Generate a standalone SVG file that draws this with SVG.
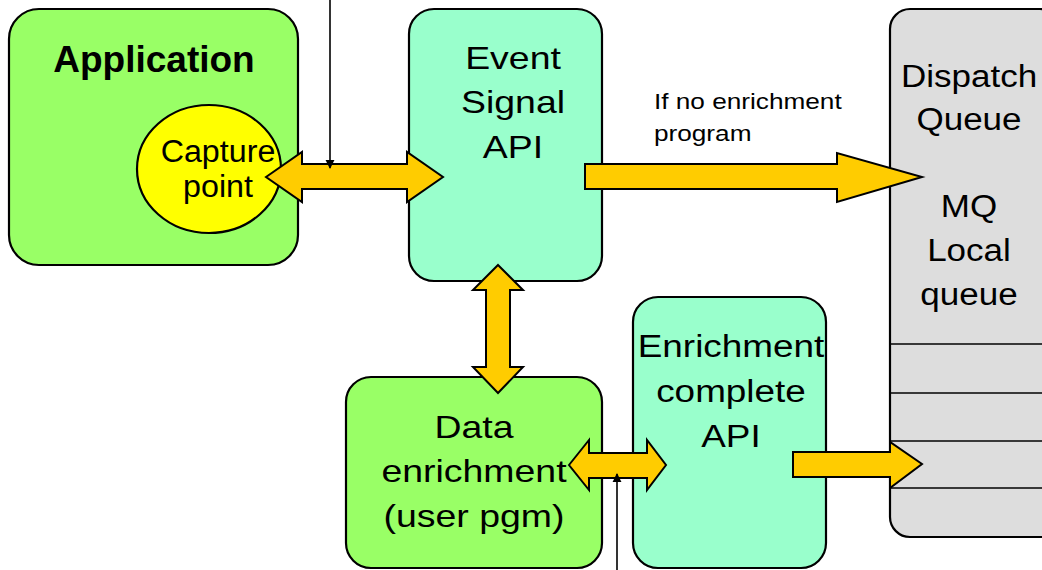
<svg xmlns="http://www.w3.org/2000/svg" width="1042" height="570" viewBox="0 0 1042 570">
<defs>
<style>
.box{stroke:#000;stroke-width:2.2}
.green{fill:#99FF66}
.aqua{fill:#99FFCC}
.grey{fill:#DDDDDD}
.t{font-family:"Liberation Sans",Arial,sans-serif;fill:#000;text-anchor:middle}
.big{font-size:32px}
.arrow{fill:#FFCC00;stroke:#000;stroke-width:2;stroke-linejoin:miter}
.thin{stroke:#000;stroke-width:1.6;fill:none}
</style>
<marker id="ah" viewBox="0 0 10 10" refX="9" refY="5" markerWidth="9" markerHeight="12" markerUnits="userSpaceOnUse" orient="auto">
<path d="M0,0 L10,5 L0,10 Z" fill="#000"/>
</marker>
</defs>
<rect width="1042" height="570" fill="#fff"/>
<g id="application">
<rect class="box green" x="9" y="9" width="289" height="256" rx="30" ry="30"/>
<text class="t" x="154" y="72" style="font-size:37px;font-weight:bold">Application</text>
</g>
<g id="capture-point">
<ellipse class="box" cx="209" cy="169" rx="72" ry="64" fill="#FFFF00"/>
<text class="t" transform="translate(218,162) scale(1.04,1)" style="font-size:31px"><tspan x="0" y="0">Capture</tspan><tspan x="0" y="35">point</tspan></text>
</g>
<g id="event-signal-api">
<rect class="box aqua" x="409" y="9" width="193" height="272" rx="25" ry="25"/>
<text class="t big" transform="translate(513,69) scale(1.17,1)"><tspan x="0" y="0">Event</tspan><tspan x="0" y="44">Signal</tspan><tspan x="0" y="89">API</tspan></text>
</g>
<g id="dispatch-queue">
<rect class="box grey" x="890" y="9" width="170" height="528" rx="20" ry="20"/>
<g class="thin">
<line x1="890" y1="344" x2="1042" y2="344"/>
<line x1="890" y1="393" x2="1042" y2="393"/>
<line x1="890" y1="441" x2="1042" y2="441"/>
<line x1="890" y1="488" x2="1042" y2="488"/>
</g>
<text class="t" transform="translate(969,87) scale(1.13,1)" style="font-size:31px"><tspan x="0" y="0">Dispatch</tspan><tspan x="0" y="43">Queue</tspan><tspan x="0" y="130">MQ</tspan><tspan x="0" y="174">Local</tspan><tspan x="0" y="218">queue</tspan></text>
</g>
<g id="data-enrichment">
<rect class="box green" x="346" y="377" width="256" height="191" rx="25" ry="25"/>
<text class="t big" transform="translate(474,438) scale(1.17,1)"><tspan x="0" y="0">Data</tspan><tspan x="0" y="44.5">enrichment</tspan><tspan x="0" y="89">(user pgm)</tspan></text>
</g>
<g id="enrichment-complete-api">
<rect class="box aqua" x="633" y="297" width="193" height="271" rx="25" ry="25"/>
<text class="t" transform="translate(731,357) scale(1.19,1)" style="font-size:31px"><tspan x="0" y="0">Enrichment</tspan><tspan x="0" y="45">complete</tspan><tspan x="0" y="90">API</tspan></text>
</g>
<g id="connectors">
<path class="arrow" d="M266,177 L302,152 L302,164 L407,164 L407,152 L443,177 L407,202 L407,189 L302,189 L302,202 Z"/>
<path class="arrow" d="M585,164 L837,164 L837,153 L922,177 L837,202 L837,189 L585,189 Z"/>
<path class="arrow" d="M498,265 L523,290 L510,290 L510,367 L523,367 L498,393 L473,367 L486,367 L486,290 L473,290 Z"/>
<path class="arrow" d="M569,465 L589,440 L589,453 L647,453 L647,440 L666,465 L647,490 L647,478 L589,478 L589,490 Z"/>
<path class="arrow" d="M793,452 L890,452 L890,442 L922,464 L890,488 L890,477 L793,477 Z"/>
<line class="thin" x1="330" y1="0" x2="330" y2="168" marker-end="url(#ah)"/>
<line class="thin" x1="617" y1="570" x2="617" y2="474" marker-end="url(#ah)"/>
<text x="654" y="109" style="font-family:'Liberation Sans',Arial,sans-serif;font-size:22px" transform="translate(654,0) scale(1.19,1) translate(-654,0)"><tspan x="654" y="109">If no enrichment</tspan><tspan x="654" y="141">program</tspan></text>
</g>
</svg>
